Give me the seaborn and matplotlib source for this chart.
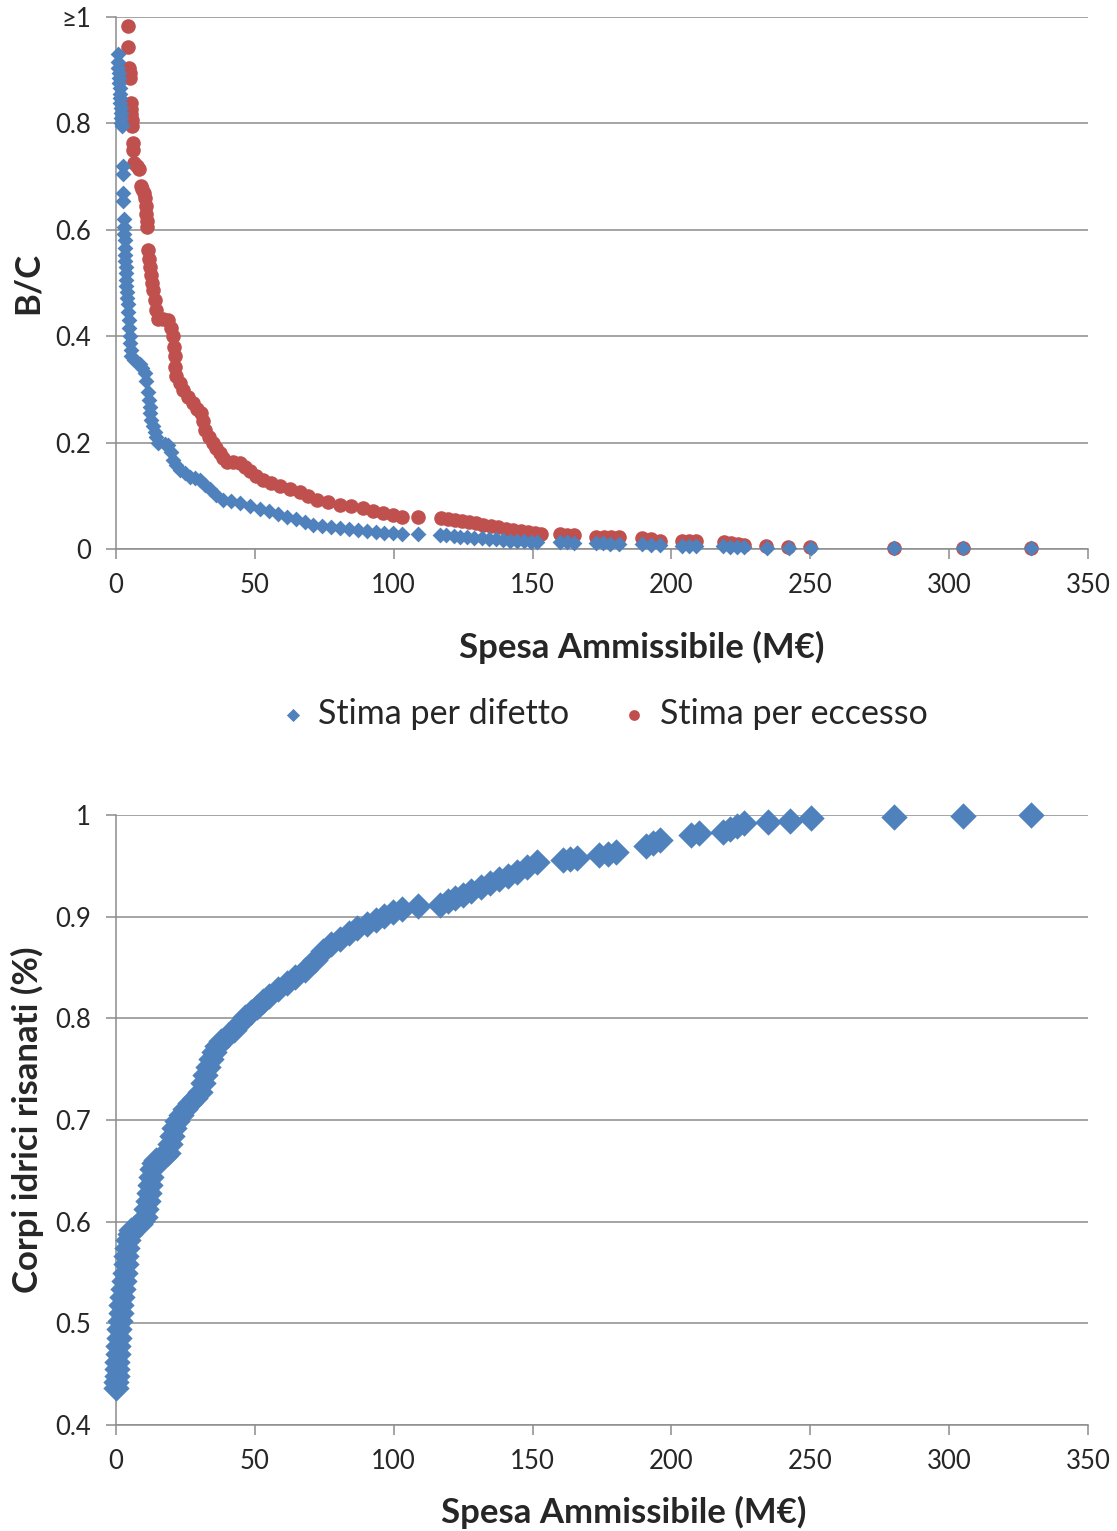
import numpy as np
import pandas as pd
import matplotlib
matplotlib.use("Agg")
import matplotlib.pyplot as plt
import seaborn as sns

# ─── DATI ────────────────────────────────────────────────────────────────────
# B/C stima per difetto vs spesa cumulata (M€)
spesa_difetto = [0.7, 0.8, 0.9, 1.0, 1.1, 1.2, 1.3, 1.4, 1.5, 1.6, 1.7, 1.8, 1.9, 2.0, 2.2,
                 2.4, 2.5, 2.6, 2.7, 2.8, 2.9, 3.0, 3.1, 3.2, 3.3, 3.4, 3.5, 3.6, 3.7, 3.8, 3.9,
                 4.0, 4.2, 4.4, 4.6, 4.8, 5.0, 5.2, 5.4, 5.6,
                 6.5, 7.5, 8.6, 9.5, 10.4, 11.0, 11.6, 11.9, 12.2, 12.3, 12.5, 13.2, 14.0, 14.6,
                 15.2, 17.5, 18.8, 19.7, 20.6, 21.8, 23.0, 24.8, 26.6, 28.4, 30.2, 32.0, 33.9,
                 36.2, 38.6, 41.6, 44.7, 48.3, 51.9, 55.0, 58.3, 61.6, 64.8, 68.0, 71.0, 74.2,
                 77.5, 80.7, 84.0, 87.1, 90.3, 93.5, 96.7, 99.8, 103.0, 108.8,
                 116.7, 119.0, 121.6, 124.0, 126.4, 129.0, 131.8, 134.5, 137.0, 139.5, 142.0,
                 144.5, 147.0, 149.5, 151.5,
                 160.0, 162.5, 165.0, 173.0, 175.5, 178.0, 181.0, 189.5, 192.5, 196.0, 204.0,
                 206.5, 209.0, 218.5, 221.0, 223.5, 226.0, 234.5, 242.5, 250.3, 280.0, 305.0, 329.6]
bc_difetto = [0.930, 0.915, 0.905, 0.895, 0.885, 0.875, 0.866, 0.856, 0.847, 0.838, 0.829, 0.820,
              0.810, 0.800, 0.795,
              0.720, 0.705, 0.670, 0.655, 0.620, 0.605, 0.592, 0.580, 0.566, 0.553, 0.542, 0.530,
              0.518, 0.506, 0.494, 0.483, 0.472, 0.460, 0.445, 0.430, 0.415, 0.400, 0.388, 0.375,
              0.362,
              0.356, 0.352, 0.348, 0.340, 0.331, 0.315, 0.295, 0.280, 0.266, 0.255, 0.243, 0.232,
              0.220, 0.210, 0.200, 0.198, 0.195, 0.182, 0.168, 0.158, 0.149, 0.142, 0.136, 0.133,
              0.130, 0.121, 0.112, 0.102, 0.093, 0.090, 0.087, 0.080, 0.075, 0.071, 0.066, 0.061,
              0.056, 0.051, 0.046, 0.043, 0.041, 0.039, 0.037, 0.035, 0.033, 0.032, 0.031, 0.030,
              0.029, 0.028,
              0.027, 0.026, 0.025, 0.023, 0.022, 0.021, 0.020, 0.019, 0.018, 0.017, 0.016, 0.016,
              0.015, 0.014, 0.014,
              0.013, 0.013, 0.012, 0.011, 0.011, 0.010, 0.010, 0.009, 0.008, 0.007, 0.006, 0.005,
              0.005, 0.005, 0.004, 0.004, 0.003, 0.002, 0.002, 0.002, 0.001, 0.001, 0.001]

# B/C stima per eccesso vs spesa cumulata (M€)
spesa_eccesso = [4.3, 4.5, 4.7, 4.9, 5.1, 5.4, 5.5, 5.6, 5.7, 5.8, 6.0, 6.2, 6.5, 7.5, 8.4, 9.0,
                 9.4, 10.0, 10.6, 10.9, 11.0, 11.1, 11.2, 11.6, 11.9, 12.2, 12.6, 13.0, 13.4,
                 14.0, 14.6, 15.2, 17.0, 18.8, 19.7, 20.6, 21.0, 21.2, 21.4, 21.6, 22.9, 24.2,
                 26.0, 27.8, 29.3, 30.8, 31.4, 32.0, 33.5, 35.0, 36.2, 37.4, 38.6, 39.9, 42.3,
                 44.7, 46.5, 48.2, 50.6, 53.0, 56.0, 59.0, 62.6, 66.3, 69.3, 72.3, 76.5, 80.7,
                 84.8, 89.0, 92.6, 96.3, 99.6, 102.9, 108.9,
                 117.0, 119.5, 122.0, 124.5, 127.0, 129.7, 132.3, 135.0, 137.7, 140.3, 143.0,
                 145.7, 148.3, 151.0, 153.0, 160.0, 162.5, 165.0, 173.0, 175.7, 178.3, 181.0,
                 189.5, 192.5, 196.0, 204.0, 206.5, 209.0, 219.0, 221.5, 224.0, 226.0, 234.0,
                 242.0, 250.0, 280.0, 305.0, 329.5]
bc_eccesso = [0.984, 0.944, 0.905, 0.895, 0.885, 0.838, 0.828, 0.818, 0.806, 0.795, 0.763, 0.750,
              0.725, 0.720, 0.714, 0.683, 0.676, 0.670, 0.660, 0.645, 0.630, 0.617, 0.605, 0.562,
              0.545, 0.531, 0.515, 0.500, 0.487, 0.468, 0.450, 0.432, 0.432, 0.430, 0.415, 0.400,
              0.380, 0.362, 0.343, 0.326, 0.312, 0.299, 0.286, 0.274, 0.264, 0.255, 0.240, 0.224,
              0.211, 0.199, 0.189, 0.180, 0.172, 0.164, 0.163, 0.162, 0.154, 0.146, 0.138, 0.130,
              0.124, 0.118, 0.113, 0.108, 0.100, 0.093, 0.088, 0.083, 0.080, 0.077, 0.072, 0.068,
              0.064, 0.060, 0.060,
              0.058, 0.056, 0.054, 0.052, 0.050, 0.048, 0.046, 0.044, 0.041, 0.038, 0.036, 0.034,
              0.032, 0.030, 0.028, 0.028, 0.027, 0.026, 0.023, 0.023, 0.022, 0.022, 0.020, 0.018,
              0.016, 0.016, 0.015, 0.015, 0.013, 0.011, 0.009, 0.008, 0.006, 0.004, 0.003, 0.002,
              0.002, 0.002]

# Quota corpi idrici risanati vs spesa cumulata (M€)
spesa_cumulata = [0.0, 0.1, 0.2, 0.3, 0.5, 0.6, 0.8, 1.0, 1.2, 1.5, 1.8, 2.0, 2.3, 2.6, 2.9, 3.2,
                  3.5, 3.8, 4.1, 4.5, 5.0, 5.6, 6.5, 7.5, 8.6, 9.5, 10.4, 11.0, 11.6, 12.0, 12.3,
                  12.6, 13.0, 13.6, 14.5, 15.5, 16.5, 17.5, 18.8, 19.5, 20.2, 21.0, 22.0, 23.5,
                  25.0, 26.6, 28.4, 30.2, 31.2, 32.2, 33.2, 34.2, 35.2, 36.4, 38.0, 40.3, 42.5,
                  44.7, 46.5, 48.7, 50.8, 53.0, 55.0, 58.3, 61.6, 64.5, 68.0, 71.7, 74.5, 77.5,
                  80.7, 84.0, 86.8, 90.3, 93.5, 96.7, 99.8, 103.0, 108.7, 116.7, 119.5, 122.2,
                  125.0, 128.0, 131.3, 134.7, 137.8, 141.0, 144.4, 148.0, 151.6, 161.0, 163.5,
                  166.0, 174.0, 177.0, 180.0, 191.0, 193.5, 196.0, 207.0, 210.0, 218.6, 221.0,
                  223.5, 226.0, 234.7, 242.7, 250.3, 280.0, 305.1, 329.6]
quota_risanati = [0.436, 0.442, 0.448, 0.455, 0.462, 0.470, 0.478, 0.486, 0.494, 0.502, 0.510,
                  0.518, 0.526, 0.534, 0.542, 0.550, 0.558, 0.566, 0.574, 0.582, 0.588, 0.592,
                  0.594, 0.596, 0.598, 0.601, 0.605, 0.612, 0.620, 0.628, 0.636, 0.644, 0.652,
                  0.658, 0.661, 0.662, 0.663, 0.665, 0.668, 0.676, 0.684, 0.692, 0.699, 0.705,
                  0.711, 0.717, 0.722, 0.728, 0.736, 0.744, 0.752, 0.760, 0.767, 0.773, 0.778,
                  0.784, 0.789, 0.795, 0.801, 0.806, 0.811, 0.817, 0.822, 0.829, 0.835, 0.841,
                  0.848, 0.857, 0.866, 0.873, 0.878, 0.884, 0.889, 0.893, 0.897, 0.901, 0.905,
                  0.908, 0.910, 0.911, 0.915, 0.918, 0.921, 0.925, 0.929, 0.933, 0.937, 0.940,
                  0.944, 0.949, 0.954, 0.956, 0.957, 0.958, 0.961, 0.962, 0.964, 0.969, 0.972,
                  0.975, 0.980, 0.982, 0.983, 0.986, 0.989, 0.992, 0.993, 0.994, 0.997, 0.998,
                  0.999, 1.000]

x_ticks = [0, 50, 100, 150, 200, 250, 300, 350]
bc_ticks = [0, 0.2, 0.4, 0.6, 0.8, 1.0]
bc_tick_labels = ["0", "0.2", "0.4", "0.6", "0.8", "≥1"]
quota_ticks = [0.4, 0.5, 0.6, 0.7, 0.8, 0.9, 1.0]
quota_tick_labels = ["0.4", "0.5", "0.6", "0.7", "0.8", "0.9", "1"]

# ─── STILE ───────────────────────────────────────────────────────────────────
sns.set_theme(style="white")
plt.rcParams['font.family'] = ['Lato', 'DejaVu Sans']

BLU = '#4F81BD'
ROSSO = '#C0504D'
GRIGIO = '#8C8C8C'


def stile_assi(ax, yticks, ylabels, ylim):
    ax.set_xlim(0, 350)
    ax.set_ylim(*ylim)
    ax.set_xticks(x_ticks)
    ax.set_yticks(yticks)
    ax.set_yticklabels(ylabels)
    ax.yaxis.grid(True, color=GRIGIO, lw=1.1)
    ax.xaxis.grid(False)
    ax.set_axisbelow(True)
    sns.despine(ax=ax)
    for s in ('left', 'bottom'):
        ax.spines[s].set_color(GRIGIO)
        ax.spines[s].set_linewidth(1.1)
    ax.tick_params(axis='both', direction='out', length=7, width=1.1, color=GRIGIO,
                   labelsize=18.5, labelcolor='#262626', bottom=True, left=True)
    ax.tick_params(axis='x', pad=10)
    ax.tick_params(axis='y', pad=11)


fig = plt.figure(figsize=(11.17, 15.31), dpi=100)
ax1 = fig.add_axes([0.1038, 0.6414, 0.8702, 0.3475])
ax2 = fig.add_axes([0.1038, 0.0692, 0.8702, 0.3985])

# 1. B/C vs spesa
df_dif = pd.DataFrame({'spesa': spesa_difetto, 'bc': bc_difetto})
df_ecc = pd.DataFrame({'spesa': spesa_eccesso, 'bc': bc_eccesso})
sns.scatterplot(data=df_dif, x='spesa', y='bc', ax=ax1, marker='D', s=65, color=BLU,
                linewidth=0, clip_on=False, label='Stima per difetto', zorder=3)
sns.scatterplot(data=df_ecc, x='spesa', y='bc', ax=ax1, marker='o', s=110, color=ROSSO,
                linewidth=0, clip_on=False, label='Stima per eccesso', zorder=2)
stile_assi(ax1, bc_ticks, bc_tick_labels, (0, 1))
ax1.set_xlabel('Spesa Ammissibile (M€)', fontsize=25, fontweight='bold', labelpad=24,
               x=0.541)
ax1.set_ylabel('B/C', fontsize=25, fontweight='bold', labelpad=8)

handles, labels = ax1.get_legend_handles_labels()
if ax1.get_legend() is not None:
    ax1.get_legend().remove()
leg = fig.legend(handles, labels, loc='center', bbox_to_anchor=(0.540, 0.5337), ncol=2,
                 frameon=False, fontsize=24.5, columnspacing=1.5, handlelength=0.8,
                 handletextpad=0.35)
leg.legend_handles[0].set_sizes([45])
leg.legend_handles[1].set_sizes([60])

# 2. Corpi idrici risanati vs spesa
df_q = pd.DataFrame({'spesa': spesa_cumulata, 'quota': quota_risanati})
sns.scatterplot(data=df_q, x='spesa', y='quota', ax=ax2, marker='D', s=180, color=BLU,
                linewidth=0, clip_on=False, legend=False, zorder=3)
stile_assi(ax2, quota_ticks, quota_tick_labels, (0.4, 1))
ax2.set_xlabel('Spesa Ammissibile (M€)', fontsize=25, fontweight='bold', labelpad=16,
               x=0.522)
ax2.set_ylabel('Corpi idrici risanati (%)', fontsize=25, fontweight='bold', labelpad=8)

fig.savefig('out.png', dpi=100)
